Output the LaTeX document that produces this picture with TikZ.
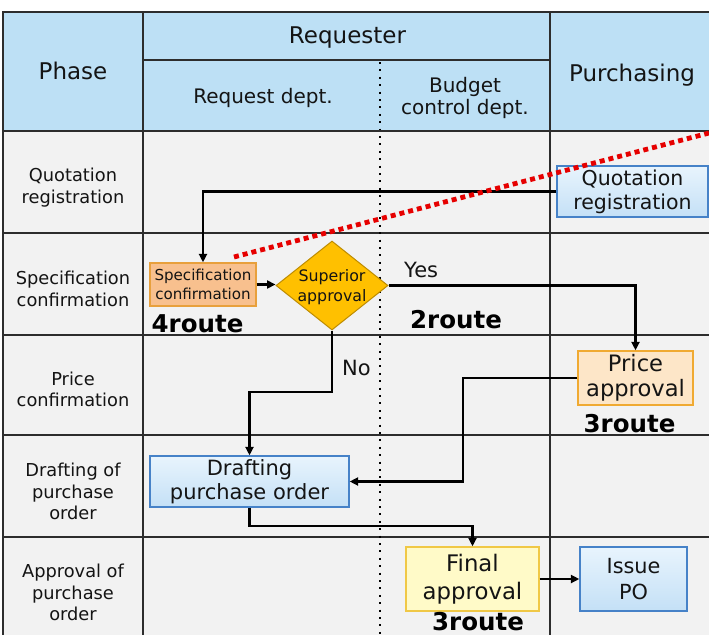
\documentclass[tikz,border=0pt]{standalone}
\usepackage{fontspec}
\setmainfont{DejaVu Sans}
\usetikzlibrary{arrows.meta,shapes.geometric}

\definecolor{hdr}{RGB}{189,224,245}
\definecolor{cell}{RGB}{242,242,242}
\definecolor{gridc}{RGB}{45,45,45}
\definecolor{specfill}{RGB}{248,192,142}
\definecolor{specline}{RGB}{232,160,60}
\definecolor{gold}{RGB}{255,192,0}
\definecolor{goldline}{RGB}{190,140,0}
\definecolor{peach}{RGB}{253,230,200}
\definecolor{peachline}{RGB}{240,170,50}
\definecolor{lemon}{RGB}{255,250,200}
\definecolor{lemonline}{RGB}{240,200,70}
\definecolor{skytop}{RGB}{232,244,253}
\definecolor{skybot}{RGB}{196,224,246}
\definecolor{skyline}{RGB}{70,130,200}
\definecolor{ink}{RGB}{20,20,20}
\definecolor{alert}{RGB}{230,0,0}

\begin{document}
\begin{tikzpicture}[x=1pt,y=-1pt,
  frame/.style={draw=gridc,line width=2pt},
  rule/.style={draw=gridc,line width=1.5pt},
  divider/.style={draw=black,line width=2pt,dash pattern=on 2pt off 5.4pt},
  proc/.style={draw,line width=1.3pt,inner sep=0pt,align=center,text=ink},
  bluebox/.style={proc,draw=skyline,top color=skytop,bottom color=skybot},
  hd/.style={text=ink,inner sep=0pt,font=\fontsize{23}{26}\selectfont},
  sub/.style={text=ink,inner sep=0pt,align=center,font=\fontsize{20}{22}\selectfont},
  phase/.style={text=ink,inner sep=0pt,align=center,font=\fontsize{17.8}{21.6}\selectfont},
  route/.style={text=black,inner sep=0pt,anchor=base,font=\bfseries\fontsize{24.5}{28}\selectfont},
  lbl/.style={text=ink,inner sep=0pt,anchor=base west,font=\fontsize{21}{24}\selectfont},
  arr/.style={draw=black,line width=2.3pt,-{Triangle[length=8.5pt,width=8pt]}}
]
\useasboundingbox (0,0) rectangle (709,635);
\fill[white] (0,0) rectangle (709,635);

% table background
\fill[hdr] (3,12) rectangle (709,131);
\fill[cell] (3,131) rectangle (709,635);

% grid
\draw[rule] (143,60) -- (550,60);
\foreach \y in {233,335,435,537} \draw[rule] (3,\y) -- (709,\y);
\draw[rule] (143,12) -- (143,635);
\draw[rule] (550,12) -- (550,635);
\draw[divider] (380,62) -- (380,635);
\draw[frame] (3,12) -- (709,12);
\draw[frame] (3,131) -- (709,131);
\draw[frame] (3,11) -- (3,635);

% header texts
\node[hd,anchor=base] (hphase) at (73,79.3) {Phase};
\node[hd,anchor=base] (hreq) at (347.5,43.3) {Requester};
\node[hd,anchor=base] (hpur) at (632,81) {Purchasing};
\node[sub,anchor=base] (hreqdept) at (263,103) {Request dept.};
\node[sub] (hbudget) at (465,97.7) {Budget\\control dept.};

% phase column
\node[phase] (p1) at (73,187.5) {Quotation\\registration};
\node[phase] (p2) at (73,289) {Specification\\confirmation};
\node[phase] (p3) at (73,389.5) {Price\\confirmation};
\node[phase] (p4) at (73,491.5) {Drafting of\\purchase\\order};
\node[phase] (p5) at (73,592.5) {Approval of\\purchase\\order};

% process boxes
\node[bluebox,minimum width=151pt,minimum height=51pt,
      font=\fontsize{20.5}{24}\selectfont] (quot) at (632.5,191.5) {Quotation\\registration};
\node[proc,draw=specline,fill=specfill,minimum width=106pt,minimum height=43pt,
      font=\fontsize{15.1}{18.5}\selectfont] (spec) at (203,284.5) {Specification\\confirmation};
\node[diamond,draw=goldline,fill=gold,line width=1pt,inner sep=0pt,
      minimum width=112pt,minimum height=89pt] (sup) at (332,285.5) {};
\node[text=ink,align=center,inner sep=0pt,
      font=\fontsize{15.8}{20}\selectfont] (suptext) at (332,287) {Superior\\approval};
\node[proc,draw=peachline,fill=peach,minimum width=115pt,minimum height=54pt,
      font=\fontsize{22.6}{25}\selectfont] (price) at (635.5,378) {Price\\approval};
\node[bluebox,minimum width=199pt,minimum height=51pt,
      font=\fontsize{21}{24}\selectfont] (draft) at (249.5,481.5) {Drafting\\purchase order};
\node[proc,draw=lemonline,fill=lemon,minimum width=133pt,minimum height=64pt,
      font=\fontsize{22.8}{28}\selectfont] (final) at (472.5,579) {Final\\approval};
\node[bluebox,minimum width=107pt,minimum height=64pt,
      font=\fontsize{20.8}{26}\selectfont] (issue) at (633.5,579) {Issue\\PO};

% route counts and branch labels
\node[route] (r4) at (197.5,332) {4route};
\node[route] (r2) at (456,328) {2route};
\node[route] (r3a) at (629.5,432) {3route};
\node[route] (r3b) at (478,630.5) {3route};
\node[lbl] (yes) at (404,277) {Yes};
\node[lbl] (no) at (342,375) {No};

% bend points
\coordinate (nobend) at (290,392);
\coordinate (pbend) at (463,430);
\coordinate (jbend) at (360,526);

% connectors
\draw[arr] (quot.west) -| (spec.north);
\draw[arr] (spec.east) -- (spec.east -| sup.west);
\draw[arr] (sup.east) -| (price.north);
\draw[arr] (sup.south) |- (nobend) -| (draft.north);
\draw[arr] (price.west) -| (pbend) |- (draft.east);
\draw[arr] (draft.south) |- (jbend) -| (final.north);
\draw[arr] (final.east) -- (issue.west);

% red dotted marker line
\coordinate (redA) at (234,257);
\coordinate (redB) at (709,133);
\draw[alert,line width=4.8pt,dash pattern=on 5pt off 4pt] (redA) -- (redB);
\end{tikzpicture}
\end{document}
